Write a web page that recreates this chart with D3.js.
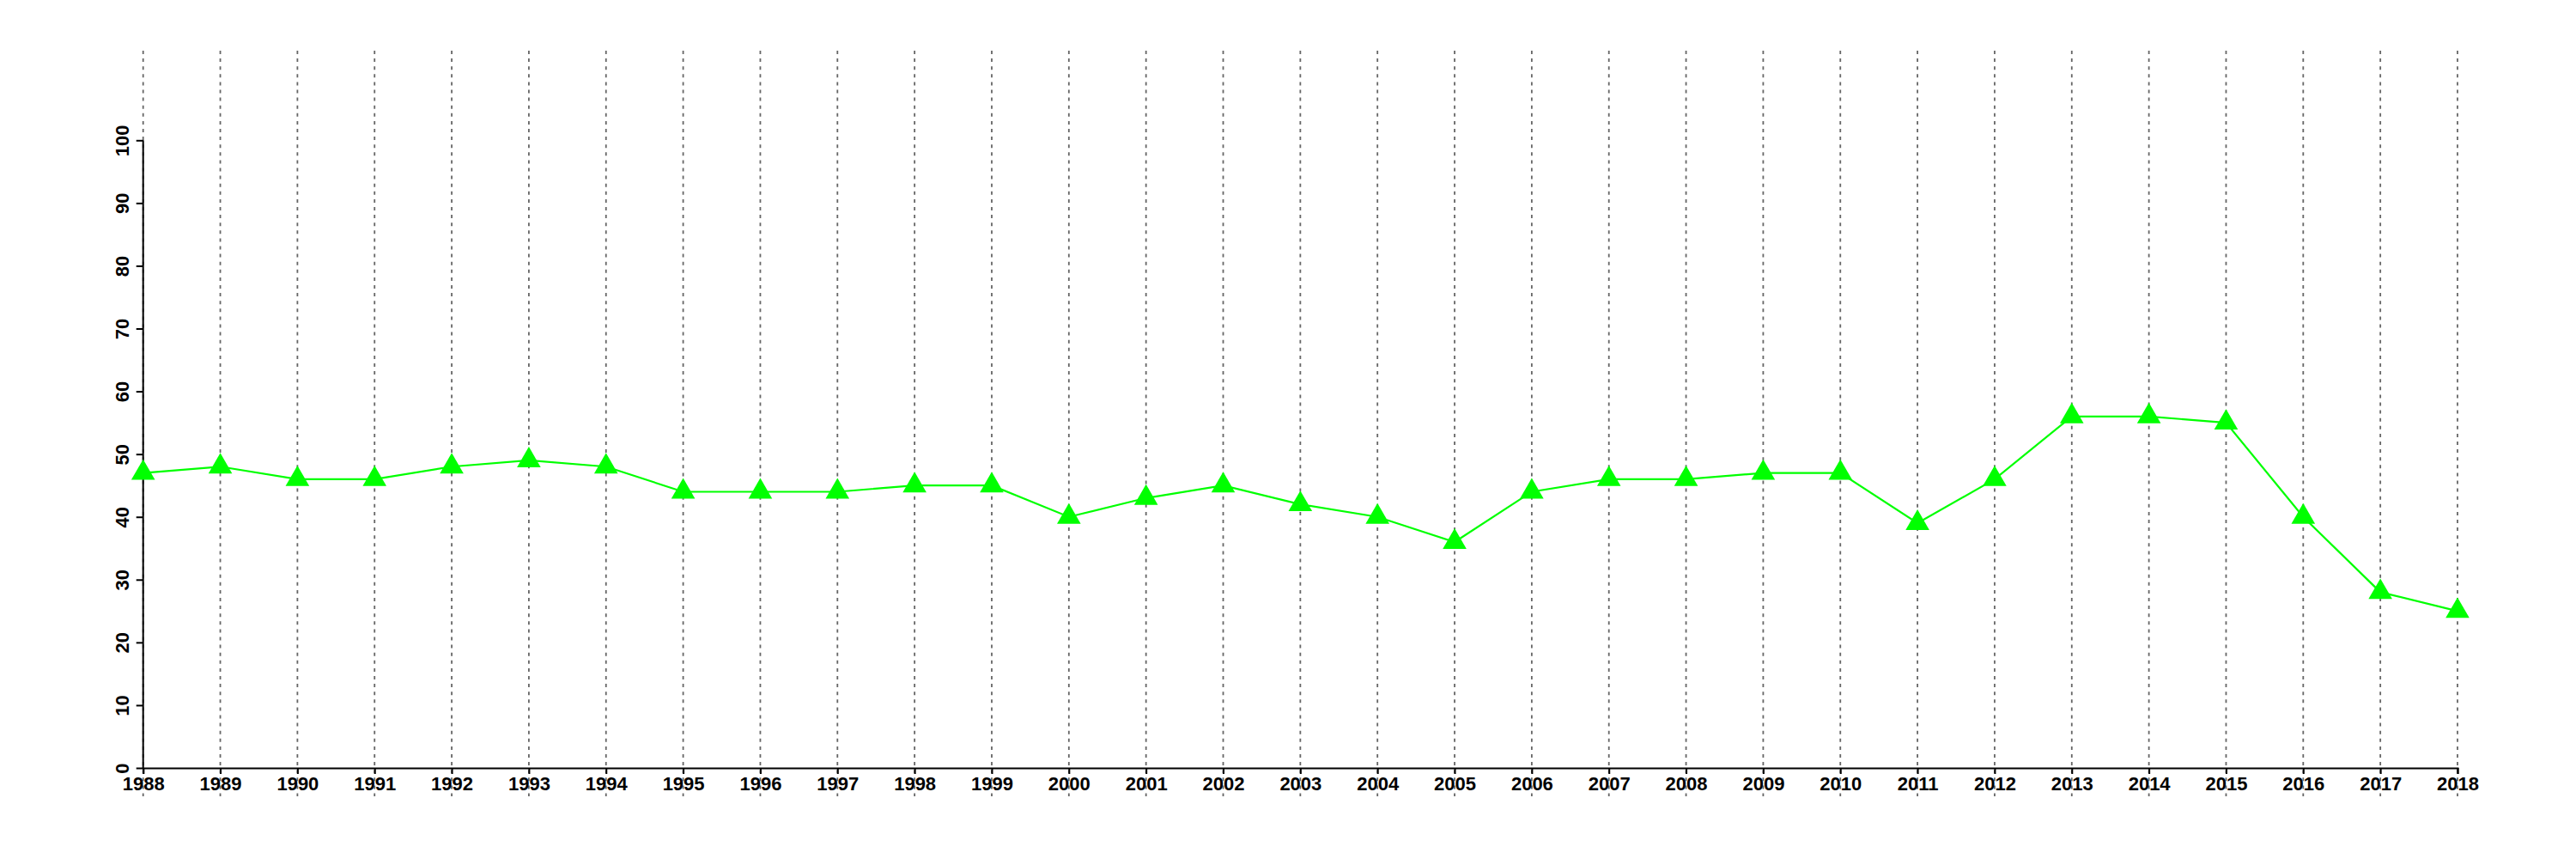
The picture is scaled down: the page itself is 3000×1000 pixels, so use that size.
<!DOCTYPE html>
<html>
<head>
<meta charset="utf-8">
<script src="https://cdn.jsdelivr.net/npm/d3@7"></script>
<style>
  html, body { margin: 0; padding: 0; background: #fff; }
  svg { display: block; }
  text { font-family: "Liberation Sans", Arial, Helvetica, sans-serif; font-weight: bold; }
</style>
</head>
<body>
<script>
const years = [1988,1989,1990,1991,1992,1993,1994,1995,1996,1997,1998,1999,2000,2001,2002,2003,2004,2005,2006,2007,2008,2009,2010,2011,2012,2013,2014,2015,2016,2017,2018];
const values = [47,48,46,46,48,49,48,44,44,44,45,45,40,43,45,42,40,36,44,46,46,47,47,39,46,56,56,55,40,28,25];
const yTicks = [0,10,20,30,40,50,60,70,80,90,100];

const W = 3000, H = 1000;
const svg = d3.select("body").append("svg").attr("width", W).attr("height", H);

const x = d3.scaleLinear().domain([1988, 2018]).range([166.7, 2862]);
const y = d3.scaleLinear().domain([0, 100]).range([894, 163.3]);

// vertical dotted gridlines
svg.append("g").selectAll("line").data(years).join("line")
  .attr("x1", d => x(d)).attr("x2", d => x(d))
  .attr("y1", 59).attr("y2", 927)
  .attr("stroke", "#666").attr("stroke-width", 1.8)
  .attr("stroke-dasharray", "4,5.1");

// x axis
const xAxis = d3.axisBottom(x).tickValues(years).tickFormat(d3.format("d")).tickSize(7).tickPadding(2);
const gx = svg.append("g").attr("transform", `translate(0,${y(0)})`).call(xAxis);
gx.select(".domain").attr("stroke", "#000").attr("stroke-width", 2);
gx.selectAll(".tick line").attr("stroke", "#000").attr("stroke-width", 2);
gx.selectAll(".tick text").attr("font-size", 22).attr("fill", "#000")
  .attr("font-family", "Liberation Sans, Arial, sans-serif").attr("font-weight", "bold")
  .attr("dy", null).attr("y", 26);

// y axis
const yAxis = d3.axisLeft(y).tickValues(yTicks).tickSize(8);
const gy = svg.append("g").attr("transform", `translate(${x(1988)},0)`).call(yAxis);
gy.select(".domain").attr("stroke", "#000").attr("stroke-width", 2).attr("d", `M0,${y(0)}V${y(100)}`);
gy.selectAll(".tick line").attr("stroke", "#000").attr("stroke-width", 2);
gy.selectAll(".tick text")
  .attr("font-size", 22).attr("fill", "#000")
  .attr("font-family", "Liberation Sans, Arial, sans-serif").attr("font-weight", "bold")
  .attr("x", null).attr("dy", null)
  .attr("text-anchor", "middle")
  .attr("transform", "translate(-17,0) rotate(-90)");

// line
const line = d3.line().x((d, i) => x(years[i])).y(d => y(d));
svg.append("path").datum(values)
  .attr("d", line).attr("fill", "none")
  .attr("stroke", "#00ff00").attr("stroke-width", 2.2);

// triangle markers
svg.append("g").selectAll("path").data(values).join("path")
  .attr("transform", (d, i) => `translate(${x(years[i])},${y(d)})`)
  .attr("d", d3.symbol(d3.symbolTriangle).size(330))
  .attr("fill", "#00ff00");
</script>
</body>
</html>
